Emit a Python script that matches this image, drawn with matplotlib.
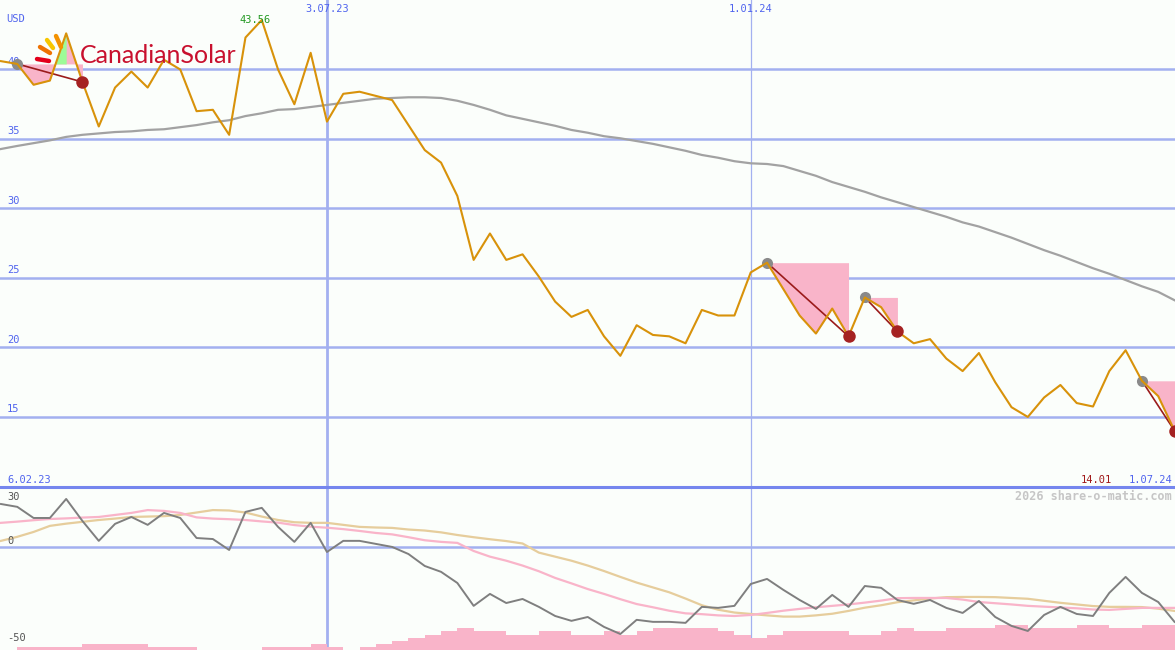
import numpy as np
import matplotlib.pyplot as plt
from matplotlib import transforms
from matplotlib.lines import Line2D

# weekly closing price, USD (13.02.23 .. 1.07.24)
price = [40.6, 40.4, 38.9, 39.2, 42.6, 39.1, 35.9, 38.7, 39.85, 38.7,
         40.7, 40.0, 37.0, 37.1, 35.3, 42.3, 43.56, 40.0, 37.5, 41.2,
         36.25, 38.25, 38.4, 38.1, 37.8, 36.0, 34.2, 33.3, 30.9, 26.3,
         28.2, 26.3, 26.7, 25.1, 23.3, 22.2, 22.7, 20.8, 19.4, 21.6,
         20.9, 20.8, 20.3, 22.7, 22.3, 22.3, 25.4, 26.1, 24.2, 22.3,
         21.0, 22.8, 20.8, 23.6, 22.9, 21.15, 20.3, 20.6, 19.2, 18.3,
         19.6, 17.5, 15.7, 15.0, 16.4, 17.3, 16.0, 15.75, 18.3, 19.8,
         17.6, 16.5, 14.01]

# long moving average
ma = [34.28, 34.5, 34.7, 34.9, 35.15, 35.3, 35.4, 35.5, 35.55, 35.65,
      35.7, 35.85, 36.0, 36.2, 36.35, 36.65, 36.85, 37.1, 37.15, 37.3,
      37.45, 37.6, 37.75, 37.9, 37.95, 38.0, 38.0, 37.95, 37.75, 37.45,
      37.1, 36.7, 36.45, 36.2, 35.95, 35.65, 35.45, 35.2, 35.05, 34.85,
      34.65, 34.4, 34.15, 33.85, 33.65, 33.4, 33.25, 33.2, 33.05, 32.7,
      32.35, 31.9, 31.55, 31.2, 30.8, 30.45, 30.1, 29.75, 29.4, 29.0,
      28.7, 28.3, 27.9, 27.45, 27.0, 26.6, 26.15, 25.7, 25.3, 24.85,
      24.4, 24.0, 23.4]

# lower panel indicators
osc = [21.2, 19.8, 14.3, 14.3, 23.7, 12.8, 3.0, 11.4, 14.8, 10.9,
       16.8, 14.3, 4.4, 3.9, -1.5, 17.3, 19.3, 9.9, 2.5, 11.9,
       -2.5, 3.0, 3.0, 1.5, 0.0, -3.5, -9.4, -12.3, -17.8, -29.1,
       -23.2, -27.7, -25.7, -29.6, -34.1, -36.5, -34.6, -39.5, -43.0, -36.0,
       -37.0, -37.0, -37.5, -29.6, -30.1, -29.1, -18.3, -15.8, -21.2, -26.2,
       -30.6, -23.7, -29.6, -19.3, -20.2, -26.2, -28.1, -26.2, -30.1, -32.6,
       -26.7, -34.6, -39.0, -41.5, -33.6, -29.6, -33.1, -34.1, -22.7, -14.8,
       -22.7, -27.2, -37.0]

osc_pink = [11.9, 12.5, 13.2, 13.8, 14.1, 14.5, 14.8, 15.8, 16.8, 18.2,
            17.8, 16.8, 14.6, 14.0, 13.7, 13.3, 12.6, 12.0, 10.8, 10.0,
            9.5, 8.8, 7.9, 6.9, 6.2, 4.8, 3.3, 2.5, 2.0, -2.0,
            -4.8, -6.8, -9.2, -12.0, -15.3, -18.0, -20.8, -23.2, -25.8, -28.2,
            -29.8, -31.5, -32.8, -33.2, -33.8, -34.1, -33.6, -32.6, -31.5, -30.6,
            -29.8, -29.1, -28.4, -27.5, -26.5, -25.3, -25.2, -25.2, -25.2, -26.0,
            -27.2, -27.8, -28.4, -29.1, -29.5, -29.9, -30.3, -30.9, -31.1, -30.6,
            -30.1, -30.1, -30.1]

osc_tan = [3.0, 5.0, 7.4, 10.4, 11.5, 12.4, 13.3, 14.0, 14.8, 15.0,
           15.2, 15.8, 17.0, 18.2, 18.0, 17.0, 15.0, 13.3, 12.2, 11.9,
           11.9, 10.9, 9.9, 9.6, 9.4, 8.6, 8.1, 7.2, 5.9, 4.8,
           3.8, 2.9, 1.7, -2.8, -4.8, -6.8, -9.2, -11.9, -14.8, -17.6,
           -20.0, -22.4, -25.5, -28.8, -31.0, -32.4, -33.1, -33.8, -34.4, -34.4,
           -33.8, -33.0, -31.6, -30.0, -28.8, -27.3, -26.4, -25.5, -24.8, -24.7,
           -24.7, -24.8, -25.2, -25.6, -26.6, -27.6, -28.4, -29.2, -29.6, -29.6,
           -29.7, -30.5, -31.6]

# step bars along the bottom of the lower panel (one per week)
bars = [0, 1.5, 1.5, 1.5, 1.5, 3.0, 3.0, 3.0, 3.0, 1.5,
        1.5, 1.5, 0, 0, 0, 0, 1.5, 1.5, 1.5, 3.0,
        1.5, 0, 1.5, 3.0, 4.4, 5.9, 7.4, 9.4, 10.9, 9.4,
        9.4, 7.4, 7.4, 9.4, 9.4, 7.4, 7.4, 9.4, 7.4, 9.4,
        10.9, 10.9, 10.9, 10.9, 9.4, 7.4, 5.9, 7.4, 9.4, 9.4,
        9.4, 9.4, 7.4, 7.4, 9.4, 10.9, 9.4, 9.4, 10.9, 10.9,
        10.9, 12.3, 12.3, 10.9, 10.9, 10.9, 12.3, 12.3, 10.9, 10.9,
        12.3, 12.3]

# downtrend markers: start week -> end week
trend_start = [1, 47, 53, 70]
trend_end = [5, 52, 55, 72]

price_ticks = [15, 20, 25, 30, 35, 40]
date_lines = {20: '3.07.23', 46: '1.01.24'}
start_label = '6.02.23'
end_label = '1.07.24'

bg = '#fbfefb'
grid_c = '#a3b0f0'
blue_txt = '#5064ee'
pink = '#f9b4c9'
x = np.arange(len(price))
mono = 'DejaVu Sans Mono'

fig = plt.figure(figsize=(11.75, 6.5), dpi=100, facecolor=bg)
ax1 = fig.add_axes([0, 163 / 650, 1, 487 / 650])
ax2 = fig.add_axes([0, 0, 1, 163 / 650])
for ax in (ax1, ax2):
    ax.set_axis_off()
    ax.set_xlim(-0.06, 72.03)
ax1.set_ylim(9.96, 45.0)
ax2.set_ylim(-50.9, 29.6)

# ---- price panel
for v in price_ticks:
    ax1.axhline(v, color=grid_c, lw=1.8, zorder=1)
for k in date_lines:
    w = 2.0 if k == 20 else 0.9
    ax1.axvline(k, color=grid_c, lw=w, zorder=1)
    ax2.axvline(k, color=grid_c, lw=w, zorder=1)

ylab = transforms.blended_transform_factory(ax1.transAxes, ax1.transData)
for v in price_ticks:
    ax1.text(7 / 1175, v + 0.18, str(v), transform=ylab, fontsize=7.5,
             family=mono, color=blue_txt, va='bottom', zorder=2)
ax1.text(6 / 1175, 1 - 19 / 487, 'USD', transform=ax1.transAxes, fontsize=7.5,
         family=mono, color=blue_txt, va='center')

for s, e in zip(trend_start, trend_end):
    lvl = price[s]
    ax1.fill_between(x[s:e + 1], price[s:e + 1], lvl, color=pink, lw=0, zorder=2)
# green where the first pattern pokes above its start level
p = np.array(price)
ax1.fill_between(x[3:5], p[3:5], price[1], where=p[3:5] > price[1],
                 interpolate=True, color='#9dfb98', lw=0, zorder=2)

ax1.plot(x, ma, color='#a2a2a2', lw=1.6, zorder=3)
for s, e in zip(trend_start, trend_end):
    ax1.plot([s, e], [price[s], price[e]], color='#9b1b1b', lw=1.2, zorder=4)
ax1.plot(x, price, color='#d8920a', lw=1.5, zorder=5)
ax1.plot(trend_start, [price[i] for i in trend_start], 'o', color='#8a8a8a',
         ms=8, mec='none', zorder=4)
ax1.plot(trend_end, [price[i] for i in trend_end], 'o', color='#a52222',
         ms=9, mec='none', zorder=6)

top = int(np.argmax(price))
ax1.annotate(f'{price[top]:.2f}', (top, price[top]), xytext=(-5, 0),
             textcoords='offset points', ha='center', va='center',
             fontsize=7.5, family=mono, color='#229922', zorder=7)

for k, lab in date_lines.items():
    ax1.text(k, 1 - 9 / 487, lab, transform=transforms.blended_transform_factory(
        ax1.transData, ax1.transAxes), ha='center', va='center',
        fontsize=7.5, family=mono, color=blue_txt)
ax1.text(7 / 1175, 7 / 487, start_label, transform=ax1.transAxes,
         fontsize=7.5, family=mono, color=blue_txt, va='center')
ax1.text(1172 / 1175, 7 / 487, end_label, transform=ax1.transAxes,
         fontsize=7.5, family=mono, color=blue_txt, va='center', ha='right')
ax1.text(1112 / 1175, 7 / 487, f'{price[-1]:.2f}', transform=ax1.transAxes,
         fontsize=7.5, family=mono, color='#a01818', va='center', ha='right')

# ---- lower panel
ax2.axhline(0, color=grid_c, lw=1.8, zorder=1)
ax2.bar(x[:-1], bars, width=1.0, align='edge', bottom=-50.9, color=pink,
        lw=0, zorder=2)
ax2.plot(x, osc_tan, color='#e6cd9c', lw=1.6, zorder=3)
ax2.plot(x, osc_pink, color='#f9b4c9', lw=1.6, zorder=3)
ax2.plot(x, osc, color='#7f7f7f', lw=1.4, zorder=4)
lab2 = transforms.blended_transform_factory(ax2.transAxes, ax2.transData)
ax2.text(7 / 1175, 27.0, '30', transform=lab2, fontsize=7.5, family=mono,
         color='#555555', va='top')
ax2.text(7 / 1175, 0.6, '0', transform=lab2, fontsize=7.5, family=mono,
         color='#555555', va='bottom')
ax2.text(7 / 1175, -47.6, '-50', transform=lab2, fontsize=7.5, family=mono,
         color='#555555', va='bottom')
ax2.text(1172 / 1175, 1 - 10 / 163, '2026 share-o-matic.com', transform=ax2.transAxes,
         fontsize=8.5, family=mono, fontweight='bold', color='#c6c6c6',
         ha='right', va='center')

# ---- overlay: separator line and logo
ov = fig.add_axes([0, 0, 1, 1])
ov.set_xlim(0, 1175)
ov.set_ylim(650, 0)
ov.set_axis_off()
ov.patch.set_alpha(0)
ov.add_line(Line2D([0, 1175], [487, 487], color='#7586ee', lw=2.2))
rays = [((47, 40), (53, 48), '#f7c600'),
        ((56, 36), (61, 47), '#f39200'),
        ((40, 47), (50, 53), '#ee7203'),
        ((37, 59), (49, 61), '#e3001b')]
for (x0, y0), (x1, y1), c in rays:
    ov.add_line(Line2D([x0, x1], [y0, y1], color=c, lw=3.2, solid_capstyle='round'))
ov.text(80, 63, 'CanadianSolar', fontsize=18, family='Lato', color='#c8102e',
        va='baseline', ha='left')

fig.savefig('out.png', dpi=100, facecolor=bg)
